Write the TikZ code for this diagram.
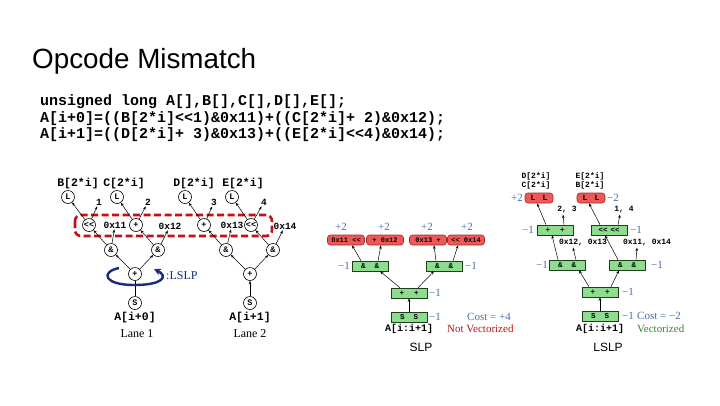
\documentclass[tikz,border=0pt]{standalone}
\usepackage{fontspec}
\setmainfont{Liberation Serif}
\setsansfont{Liberation Sans}
\setmonofont{Liberation Mono}
\usetikzlibrary{arrows.meta}
\definecolor{dred}{HTML}{C81010}
\definecolor{redf}{HTML}{F05858}
\definecolor{redd}{HTML}{A02828}
\definecolor{greenf}{HTML}{8EDC8E}
\definecolor{greend}{HTML}{1E3E1E}
\definecolor{lblue}{HTML}{4A6FA5}
\definecolor{navy}{HTML}{1A2A80}
\definecolor{vgreen}{HTML}{2E8B2E}
\tikzset{
  arr/.style={-{Stealth[length=3.5pt,width=2.6pt]}, line width=0.5pt, black},
  cn/.style={circle, draw, line width=0.6pt, minimum size=13pt, inner sep=0pt, font=\ttfamily\bfseries\fontsize{8.5}{9}\selectfont},
  lab/.style={inner sep=1pt, font=\ttfamily\bfseries\fontsize{11.5}{12}\selectfont},
  slab/.style={inner sep=1pt, font=\ttfamily\bfseries\fontsize{9.5}{10}\selectfont},
  tlab/.style={inner sep=1pt, font=\ttfamily\bfseries\fontsize{8}{8.5}\selectfont},
  rbox/.style={rounded corners=3pt, fill=redf, draw=redd, line width=0.6pt, minimum width=37pt, minimum height=10pt, inner sep=0.5pt, font=\ttfamily\bfseries\fontsize{7}{7.5}\selectfont},
  gbox/.style={fill=greenf, draw=greend, line width=0.6pt, minimum width=36pt, minimum height=10pt, inner sep=0.5pt, font=\ttfamily\bfseries\fontsize{7.5}{8}\selectfont},
  cst/.style={inner sep=1pt, text=lblue, font=\fontsize{11}{12}\selectfont},
}
\begin{document}
\begin{tikzpicture}[x=1pt,y=-1pt]
\useasboundingbox (0,0) rectangle (720,405);
\fill[white] (0,0) rectangle (720,405);

% title and code
\node[anchor=west, inner sep=0pt, font=\sffamily\fontsize{27.8}{30}\selectfont] (title) at (32,61) {Opcode Mismatch};
\node[anchor=west, inner sep=0pt, font=\ttfamily\bfseries\fontsize{15}{15}\selectfont] (c1) at (40,102) {unsigned long A[],B[],C[],D[],E[];};
\node[anchor=west, inner sep=0pt, font=\ttfamily\bfseries\fontsize{15}{15}\selectfont] (c2) at (40,119) {A[i+0]=((B[2*i]<<1)\&0x11)+((C[2*i]+ 2)\&0x12);};
\node[anchor=west, inner sep=0pt, font=\ttfamily\bfseries\fontsize{15}{15}\selectfont] (c3) at (40,135) {A[i+1]=((D[2*i]+ 3)\&0x13)+((E[2*i]<<4)\&0x14);};

% ---------- left trees ----------
\node[lab] (Bl) at (78,184) {B[2*i]};
\node[lab] (Cl) at (124,184) {C[2*i]};
\node[lab] (Dl) at (194,184) {D[2*i]};
\node[lab] (El) at (243,184) {E[2*i]};
\node[cn] (L1) at (68,197) {L};
\node[cn] (L2) at (117,197) {L};
\node[cn] (L3) at (185,197) {L};
\node[cn] (L4) at (232,197) {L};
\node[slab] (n1) at (99,202) {1};
\node[slab] (n2) at (148,202) {2};
\node[slab] (n3) at (214,202) {3};
\node[slab] (n4) at (264,202) {4};

\draw[dred, dashed, dash pattern=on 7pt off 3.5pt, line width=2.6pt, rounded corners=6pt] (75,215) rectangle (272,236);

\node[cn] (sh1) at (89,225) {<<};
\node[slab] (k11) at (115,225) {0x11};
\node[cn] (pl1) at (136,225) {+};
\node[slab] (k12) at (170,226) {0x12};
\node[cn] (pl2) at (204,225) {+};
\node[slab] (k13) at (232,225) {0x13};
\node[cn] (sh2) at (251,225) {<<};
\node[slab] (k14) at (285,226) {0x14};

\node[cn] (a1) at (111,250) {\&};
\node[cn] (a2) at (158,250) {\&};
\node[cn] (a3) at (226,250) {\&};
\node[cn] (a4) at (273,250) {\&};
\node[cn] (p1) at (135,274) {+};
\node[cn] (p2) at (250,274) {+};
\node[cn] (s1) at (135,303) {S};
\node[cn] (s2) at (250,303) {S};
\node[lab] (A0) at (135,318) {A[i+0]};
\node[lab] (A1) at (250,318) {A[i+1]};
\node[inner sep=1pt, font=\fontsize{12}{13}\selectfont] (lane1) at (137,334) {Lane 1};
\node[inner sep=1pt, font=\fontsize{12}{13}\selectfont] (lane2) at (250,334) {Lane 2};

\draw[arr] (sh1) -- (L1);
\draw[arr] (sh1) -- (n1);
\draw[arr] (pl1) -- (L2);
\draw[arr] (pl1) -- (n2);
\draw[arr] (pl2) -- (L3);
\draw[arr] (pl2) -- (n3);
\draw[arr] (sh2) -- (L4);
\draw[arr] (sh2) -- (n4);
\draw[arr] (a1) -- (sh1);
\draw[arr] (a1) -- (k11);
\draw[arr] (a2) -- (pl1);
\draw[arr] (a2) -- (k12);
\draw[arr] (a3) -- (pl2);
\draw[arr] (a3) -- (k13);
\draw[arr] (a4) -- (sh2);
\draw[arr] (a4) -- (k14);
\draw[arr] (p1) -- (a1);
\draw[arr] (p1) -- (a2);
\draw[arr] (p2) -- (a3);
\draw[arr] (p2) -- (a4);
\draw[line width=0.6pt] (s1) -- (p1);
\draw[arr] (s2) -- (p2);

% LSLP loop
\coordinate (lsA) at (119,268);
\coordinate (lsB) at (134,285);
\coordinate (lsC) at (154,269);
\draw[navy, line width=2.4pt, -{Stealth[length=7pt,width=7pt]}] (lsA) .. controls (100,272) and (104,285) .. (lsB) .. controls (164,285) and (168,276) .. (lsC);
\node[anchor=west, inner sep=0pt, text=navy, font=\fontsize{12}{13}\selectfont] (lslp) at (166,276) {:LSLP};

% ---------- SLP ----------
\node[rbox] (r1) at (346,240) {0x11 <<};
\node[rbox] (r2) at (385,240) {+ 0x12};
\node[rbox] (r3) at (428,240) {0x13 +};
\node[rbox] (r4) at (466,240) {<< 0x14};
\node[cst] (c21) at (341,227) {+2};
\node[cst] (c22) at (384,227) {+2};
\node[cst] (c23) at (427,227) {+2};
\node[cst] (c24) at (467,227) {+2};
\node[gbox] (g1) at (370,266) {\&\hspace{9pt}\&};
\node[gbox] (g2) at (444,266) {\&\hspace{9pt}\&};
\node[cst] (m1) at (344,266) {−1};
\node[cst] (m2) at (471,266) {−1};
\node[gbox] (gp) at (409,293) {+\hspace{10pt}+};
\node[cst] (m3) at (435,293) {−1};
\node[gbox] (gs) at (409,317) {S\hspace{9pt}S};
\node[cst] (m4) at (435,317) {−1};
\node[lab, font=\ttfamily\bfseries\fontsize{10}{10}\selectfont] (Aslp) at (409,329) {A[i:i+1]};
\node[cst, anchor=west] (cost1) at (466,317) {Cost = +4};
\node[inner sep=1pt, anchor=west, text=dred, font=\fontsize{11}{12}\selectfont] (nv) at (446,329) {Not Vectorized};
\node[inner sep=1pt, font=\sffamily\fontsize{12}{13}\selectfont] (slp) at (421,347) {SLP};

\draw[arr] ([xshift=-9pt]g1.north) -- ([xshift=6pt]r1.south);
\draw[arr] ([xshift=8pt]g1.north) -- ([xshift=-4pt]r2.south);
\draw[arr] ([xshift=-8pt]g2.north) -- ([xshift=6pt]r3.south);
\draw[arr] ([xshift=9pt]g2.north) -- ([xshift=-8pt]r4.south);
\draw[arr] ([xshift=-9pt]gp.north) -- ([xshift=10pt]g1.south);
\draw[arr] ([xshift=9pt]gp.north) -- ([xshift=-10pt]g2.south);
\draw[arr] (gs) -- (gp);

% ---------- LSLP ----------
\node[tlab, align=center] (DC) at (536,181) {D[2*i]\\C[2*i]};
\node[tlab, align=center] (EB) at (590,181) {E[2*i]\\B[2*i]};
\node[rbox, minimum width=28pt, font=\ttfamily\bfseries\fontsize{8}{8}\selectfont] (rl) at (539,198) {L\hspace{7pt}L};
\node[rbox, minimum width=28pt, font=\ttfamily\bfseries\fontsize{8}{8}\selectfont] (rr) at (591,198) {L\hspace{7pt}L};
\node[cst] (q1) at (517,198) {+2};
\node[cst] (q2) at (613,198) {−2};
\node[tlab] (t23) at (567,210) {2, 3};
\node[tlab] (t14) at (624,210) {1, 4};
\node[gbox] (lp) at (555,230) {+\hspace{10pt}+};
\node[gbox] (ls) at (609,230) {<<\hspace{3pt}<<};
\node[cst] (q3) at (528,230) {−1};
\node[cst] (q4) at (636,230) {−1};
\node[tlab] (t1213) at (583,243) {0x12, 0x13};
\node[tlab] (t1114) at (647,243) {0x11, 0x14};
\node[gbox] (la) at (567,265) {\&\hspace{9pt}\&};
\node[gbox] (lb) at (627,265) {\&\hspace{9pt}\&};
\node[cst] (q5) at (542,265) {−1};
\node[cst] (q6) at (657,265) {−1};
\node[gbox] (lpp) at (600,292) {+\hspace{10pt}+};
\node[cst] (q7) at (628,292) {−1};
\node[gbox] (lss) at (600,316) {S\hspace{9pt}S};
\node[cst] (q8) at (628,316) {−1};
\node[lab, font=\ttfamily\bfseries\fontsize{10}{10}\selectfont] (Alslp) at (600,329) {A[i:i+1]};
\node[cst, anchor=west] (cost2) at (636,316) {Cost = −2};
\node[inner sep=1pt, anchor=west, text=vgreen, font=\fontsize{11}{12}\selectfont] (vz) at (636,329) {Vectorized};
\node[inner sep=1pt, font=\sffamily\fontsize{12}{13}\selectfont] (lslpt) at (608,347) {LSLP};

\draw[arr] ([xshift=-9pt]lp.north) -- ([xshift=-2pt]rl.south);
\draw[arr] ([xshift=9pt]lp.north) -- ([xshift=-4pt]t23.south);
\draw[arr] ([xshift=-9pt]ls.north) -- ([xshift=-2pt]rr.south);
\draw[arr] ([xshift=9pt]ls.north) -- ([xshift=-4pt]t14.south);
\draw[arr] ([xshift=-9pt]la.north) -- ([xshift=-3pt]lp.south);
\draw[arr] ([xshift=9pt]la.north) -- ([xshift=-10pt]t1213.south);
\draw[arr] ([xshift=-9pt]lb.north) -- ([xshift=-4pt]ls.south);
\draw[arr] ([xshift=9pt]lb.north) -- ([xshift=-10pt]t1114.south);
\draw[arr] ([xshift=-11pt]lpp.north) -- ([xshift=12pt]la.south);
\draw[arr] ([xshift=11pt]lpp.north) -- ([xshift=-8pt]lb.south);
\draw[arr] (lss) -- (lpp);
\end{tikzpicture}
\end{document}
